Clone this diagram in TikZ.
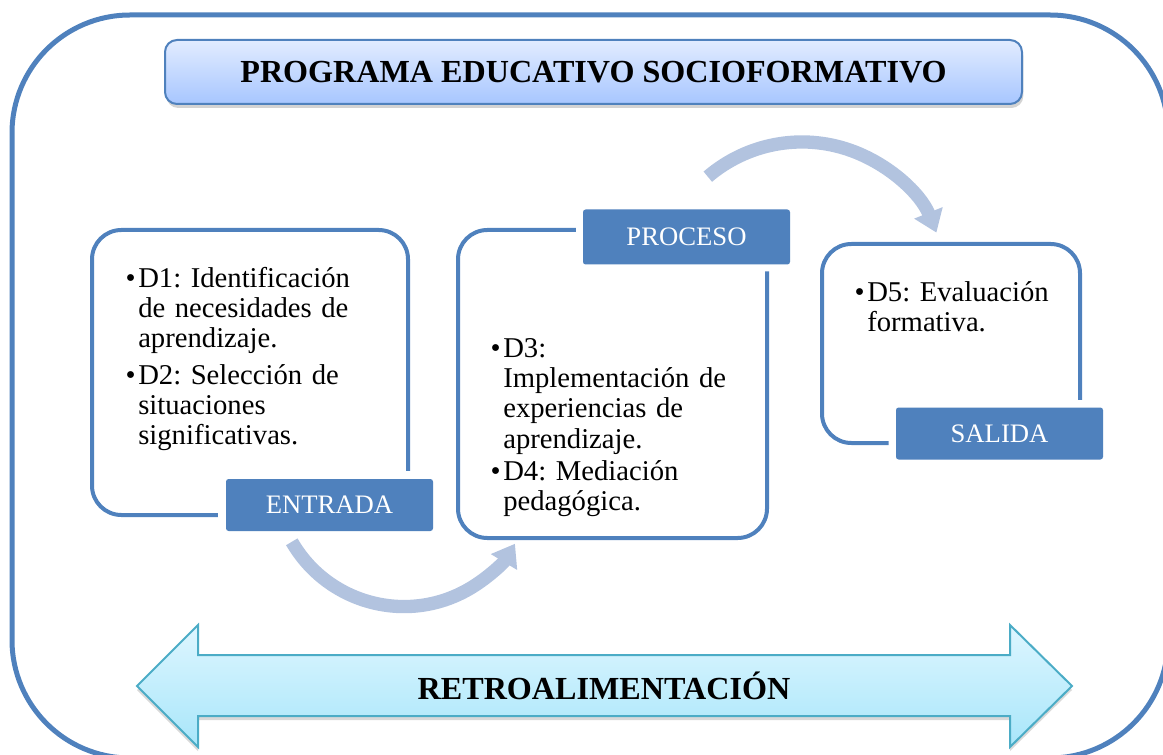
\documentclass[tikz,border=0pt]{standalone}
\usepackage{fontspec}
\setmainfont{Liberation Serif}
\usetikzlibrary{shadows,arrows.meta}
\definecolor{frameblue}{RGB}{79,129,189}
\definecolor{bandblue}{RGB}{178,195,223}
\definecolor{titletop}{RGB}{226,236,255}
\definecolor{titlebot}{RGB}{167,198,255}
\definecolor{retrotop}{RGB}{222,246,255}
\definecolor{retrobot}{RGB}{168,230,250}
\definecolor{retroline}{RGB}{75,172,198}
\hyphenpenalty=10000 \exhyphenpenalty=10000 \frenchspacing
\newcommand{\ditem}[1]{\par\noindent\llap{\textbullet\kern2pt}\strut#1}
\newcommand{\dgap}[1]{\par\vskip #1}

\begin{document}
\begin{tikzpicture}[x=0.75pt,y=0.75pt,yscale=-1,xscale=1,
    panel/.style={draw=frameblue, line width=3pt, rounded corners=22pt, inner sep=0pt},
    tag/.style={fill=frameblue, rounded corners=2pt, text=white, minimum width=155.25pt, minimum height=39pt, inner sep=0pt, font=\fontsize{20pt}{24pt}\selectfont},
    items/.style={anchor=north west, inner sep=0pt, align=left, text width=180pt, font=\fontsize{21.5pt}{22.75pt}\selectfont},
    band/.style={draw=bandblue, line width=10pt, -{Triangle[length=16pt,width=22pt]}},
    heading/.style={font=\bfseries\fontsize{24.1pt}{28pt}\selectfont, inner sep=0pt}]
    \useasboundingbox (0,0) rectangle (1163,755);
    \clip (0,0) rectangle (1163,755);

    %Rounded Rect [outer frame]
    \draw [draw=frameblue, line width=3.75pt, rounded corners=88.5pt] (12,15) rectangle (1168,758);

    %Rounded Rect [title]
    \node [heading, draw=frameblue, line width=1.5pt, rounded corners=9pt, top color=titletop, bottom color=titlebot, minimum width=642.75pt, minimum height=48pt, drop shadow={opacity=0.35, shadow xshift=1pt, shadow yshift=-3pt}] (titlebox) at (593.5,72) {PROGRAMA EDUCATIVO SOCIOFORMATIVO};

    %Rounded Rect [panels]
    \node [panel, minimum width=237pt, minimum height=213.75pt] (entradabox) at (250,372.5) {};
    \node [panel, minimum width=231.75pt, minimum height=231pt] (procesobox) at (612.5,384) {};
    \node [panel, minimum width=193.5pt, minimum height=149.25pt] (salidabox) at (951,343.5) {};

    %Rect [tags]
    \node [tag, preaction={draw=white, line width=12pt}] (entrada) at (329.5,505) {ENTRADA};
    \node [tag, preaction={draw=white, line width=10.5pt}, minimum height=41.25pt] (proceso) at (686.5,237) {PROCESO};
    \node [tag, preaction={draw=white, line width=11pt}] (salida) at (999.5,433.5) {SALIDA};

    % Text Node
    \node [items] (entradatext) at (138,256.7) {\ditem{D1: Identificación\newline de necesidades de\newline aprendizaje.}\dgap{4.5pt}\ditem{D2: Selección de\newline situaciones\newline significativas.}};
    % Text Node
    \node [items] (procesotext) at (503,326.7) {\ditem{D3:\newline Implementación de\newline experiencias de\newline aprendizaje.}\dgap{1.5pt}\ditem{D4: Mediación\newline pedagógica.}};
    % Text Node
    \node [items] (salidatext) at (867,270.7) {\ditem{D5: Evaluación\newline formativa.}};

    %Double Arrow [feedback]
    \draw [draw=retroline, line width=1.5pt, top color=retrotop, bottom color=retrobot, drop shadow={opacity=0.3, shadow xshift=0pt, shadow yshift=-3pt}] (137,686) -- (198,625) -- (198,655) -- (1010,655) -- (1010,625) -- (1072,686) -- (1010,747) -- (1010,716) -- (198,716) -- (198,747) -- cycle;
    \node [heading] (retro) at (604,686) {RETROALIMENTACIÓN};

    %Curved Arrows
    \coordinate (lowfrom) at (291.8,541.8);
    \coordinate (highfrom) at (707.8,176.7);
    \draw [band] (lowfrom) arc [start angle=150, end angle=31, radius=129.5];
    \draw [band] (highfrom) arc [start angle=229.5, end angle=338, radius=145];

\end{tikzpicture}
\end{document}
